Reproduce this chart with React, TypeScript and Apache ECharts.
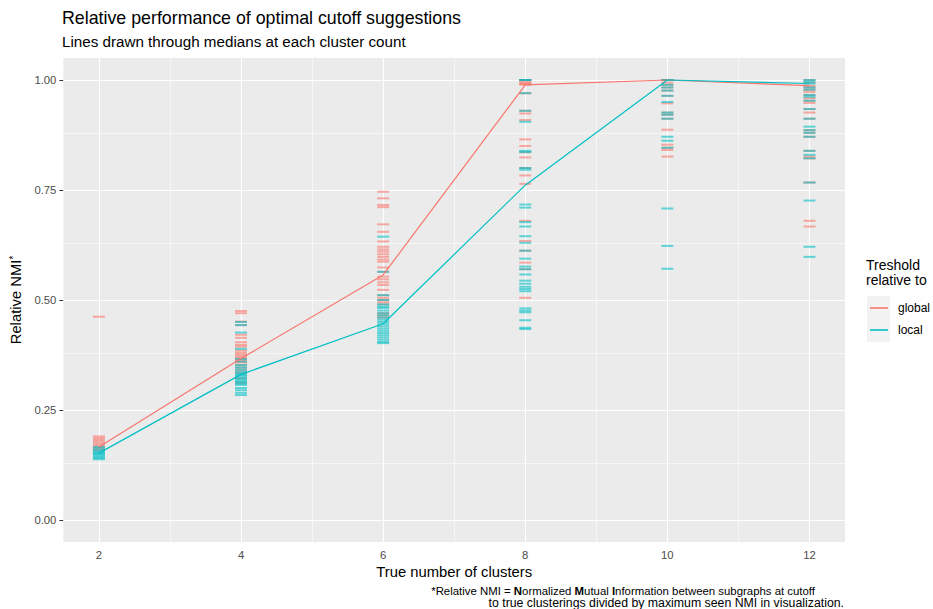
import React, { useEffect, useRef } from "react";
import * as echarts from "echarts";

const clusterCounts = [2, 4, 6, 8, 10, 12];
const globalMedians = [0.166, 0.367, 0.557, 0.989, 1.0, 0.987];
const localMedians = [0.152, 0.331, 0.446, 0.761, 1.0, 0.992];

const global2 = [0.462, 0.19, 0.186, 0.182, 0.178, 0.174, 0.17, 0.166, 0.162, 0.158];
const local2 = [0.166, 0.162, 0.158, 0.155, 0.152, 0.15, 0.147, 0.144, 0.141, 0.138];
const global4 = [0.475, 0.47, 0.451, 0.443, 0.421, 0.414, 0.404, 0.398, 0.394, 0.385, 0.38, 0.376, 0.372, 0.368, 0.365, 0.362, 0.358, 0.352, 0.346, 0.34, 0.334, 0.322, 0.312];
const local4 = [0.45, 0.443, 0.426, 0.389, 0.366, 0.36, 0.352, 0.347, 0.342, 0.337, 0.333, 0.33, 0.327, 0.323, 0.32, 0.316, 0.313, 0.31, 0.307, 0.3, 0.295, 0.289, 0.284];
const global6 = [0.746, 0.731, 0.716, 0.711, 0.672, 0.655, 0.633, 0.621, 0.615, 0.61, 0.604, 0.598, 0.592, 0.587, 0.574, 0.564, 0.553, 0.547, 0.54, 0.534, 0.523, 0.511, 0.505, 0.5, 0.495, 0.49, 0.47, 0.465, 0.46];
const local6 = [0.644, 0.564, 0.511, 0.5, 0.49, 0.485, 0.482, 0.476, 0.47, 0.465, 0.46, 0.455, 0.45, 0.445, 0.44, 0.435, 0.43, 0.425, 0.42, 0.415, 0.41, 0.405, 0.402];
const global8 = [1.0, 1.0, 1.0, 1.0, 1.0, 0.996, 0.993, 0.99, 0.99, 0.97, 0.93, 0.924, 0.909, 0.865, 0.85, 0.836, 0.824, 0.8, 0.783, 0.764, 0.68, 0.634, 0.612, 0.585, 0.57, 0.505];
const local8 = [1.0, 1.0, 0.97, 0.93, 0.905, 0.839, 0.836, 0.8, 0.796, 0.717, 0.71, 0.677, 0.667, 0.645, 0.63, 0.612, 0.594, 0.576, 0.57, 0.558, 0.544, 0.537, 0.53, 0.525, 0.52, 0.481, 0.476, 0.472, 0.454, 0.437, 0.434];
const global10 = [1.0, 1.0, 0.994, 0.989, 0.983, 0.976, 0.964, 0.947, 0.926, 0.921, 0.912, 0.887, 0.853, 0.846, 0.841, 0.826];
const local10 = [1.0, 1.0, 0.989, 0.983, 0.976, 0.964, 0.95, 0.926, 0.921, 0.912, 0.871, 0.862, 0.846, 0.708, 0.623, 0.571];
const global12 = [1.0, 0.994, 0.987, 0.983, 0.978, 0.973, 0.966, 0.959, 0.953, 0.948, 0.934, 0.926, 0.912, 0.886, 0.88, 0.871, 0.839, 0.826, 0.822, 0.767, 0.68, 0.667];
const local12 = [1.0, 0.996, 0.992, 0.983, 0.978, 0.966, 0.962, 0.953, 0.934, 0.912, 0.894, 0.886, 0.88, 0.871, 0.839, 0.83, 0.822, 0.767, 0.726, 0.621, 0.598];

const xTicks = [2, 4, 6, 8, 10, 12];
const xMinorTicks = [3, 5, 7, 9, 11];
const yTicks = [0, 0.25, 0.5, 0.75, 1.0];
const yMinorTicks = [0.125, 0.375, 0.625, 0.875];

const FONT = "'Liberation Sans', Arial, Helvetica, sans-serif";
const RED = "#F8766D";
const CYAN = "#00BFC4";

const globalByCount = [global2, global4, global6, global8, global10, global12];
const localByCount = [local2, local4, local6, local8, local10, local12];

function toPoints(groups: number[][]) {
  return groups.flatMap((vals, i) => vals.map((v) => [clusterCounts[i], v]));
}

export default function App() {
  const ref = useRef<HTMLDivElement>(null);
  useEffect(() => {
    if (!ref.current) return;
    const chart = echarts.init(ref.current, null, { renderer: "svg" });
    const majorStyle = { color: "#FFFFFF", width: 1.1, type: "solid" as const };
    const minorStyle = { color: "#FFFFFF", width: 0.55, type: "solid" as const };
    const option: any = {
      animation: false,
      textStyle: { fontFamily: FONT },
      title: [
        {
          text: "Relative performance of optimal cutoff suggestions",
          left: 62,
          top: 9,
          padding: 0,
          textStyle: { fontFamily: FONT, fontSize: 17.8, fontWeight: "normal", color: "#000" },
        },
        {
          text: "Lines drawn through medians at each cluster count",
          left: 62,
          top: 34,
          padding: 0,
          textStyle: { fontFamily: FONT, fontSize: 15.2, fontWeight: "normal", color: "#000" },
        },
      ],
      grid: {
        left: 62,
        right: 88,
        top: 58,
        bottom: 67,
        show: true,
        backgroundColor: "#EBEBEB",
        borderWidth: 0,
      },
      xAxis: {
        type: "value",
        min: 1.5,
        max: 12.5,
        name: "True number of clusters",
        nameLocation: "middle",
        nameGap: 21,
        nameTextStyle: { fontFamily: FONT, fontSize: 14.8, color: "#000", verticalAlign: "top" },
        axisLine: { show: false },
        axisTick: { show: true, length: 4, lineStyle: { color: "#333333", width: 1 }, customValues: xTicks },
        axisLabel: {
          customValues: xTicks,
          margin: 7,
          fontFamily: FONT,
          fontSize: 11.3,
          color: "#4D4D4D",
          formatter: (v: number) => String(v),
        },
        splitLine: { show: false },
      },
      yAxis: {
        type: "value",
        min: -0.05,
        max: 1.05,
        name: "{a|Relative NMI}{s|*}",
        nameLocation: "middle",
        nameGap: 33,
        nameRotate: 90,
        nameTextStyle: {
          fontFamily: FONT,
          color: "#000",
          rich: {
            a: { fontFamily: FONT, fontSize: 14.8, color: "#000", lineHeight: 16 },
            s: { fontFamily: FONT, fontSize: 10, color: "#000", verticalAlign: "top", lineHeight: 16 },
          },
        },
        axisLine: { show: false },
        axisTick: { show: true, length: 4, lineStyle: { color: "#333333", width: 1 }, customValues: yTicks },
        axisLabel: {
          customValues: yTicks,
          margin: 7,
          fontFamily: FONT,
          fontSize: 11.3,
          color: "#4D4D4D",
          formatter: (v: number) => v.toFixed(2),
        },
        splitLine: { show: false },
      },
      legend: {
        data: [
          { name: "global", icon: "rect" },
          { name: "local", icon: "rect" },
        ],
        orient: "vertical",
        left: 870,
        top: 302,
        padding: 0,
        itemWidth: 18,
        itemHeight: 1.6,
        itemGap: 10,
        selectedMode: false,
        textStyle: { fontFamily: FONT, fontSize: 12, color: "#000", padding: [0, 0, 0, 5] },
      },
      graphic: [
        {
          type: "rect",
          left: 867,
          top: 296,
          shape: { width: 23, height: 46 },
          style: { fill: "#F2F2F2" },
          z: -1,
        },
        {
          type: "text",
          left: 866,
          top: 257,
          style: {
            text: "Treshold\nrelative to",
            fontFamily: FONT,
            fontSize: 14,
            lineHeight: 15,
            fill: "#000",
          },
        },
        {
          type: "text",
          x: 815,
          y: 591.2,
          style: {
            text: "{n|*Relative NMI = }{b|N}{n|ormalized }{b|M}{n|utual }{b|I}{n|nformation between subgraphs at cutoff}",
            align: "right",
            verticalAlign: "middle",
            rich: {
              n: { fontFamily: FONT, fontSize: 11.4, fill: "#000", color: "#000" },
              b: { fontFamily: FONT, fontSize: 11.4, fontWeight: "bold", fill: "#000", color: "#000" },
            },
          },
        },
        {
          type: "text",
          x: 844,
          y: 603,
          style: {
            text: "to true clusterings divided by maximum seen NMI in visualization.",
            align: "right",
            verticalAlign: "middle",
            fontFamily: FONT,
            fontSize: 12.3,
            fill: "#000",
          },
        },
      ],
      series: [
        {
          name: "global",
          type: "line",
          data: clusterCounts.map((c, i) => [c, globalMedians[i]]),
          showSymbol: false,
          symbol: "none",
          lineStyle: { color: RED, width: 1.2 },
          itemStyle: { color: RED },
          z: 4,
          silent: true,
        },
        {
          name: "local",
          type: "line",
          data: clusterCounts.map((c, i) => [c, localMedians[i]]),
          showSymbol: false,
          symbol: "none",
          lineStyle: { color: CYAN, width: 1.2 },
          itemStyle: { color: CYAN },
          z: 4,
          silent: true,
        },
        {
          name: "grid",
          type: "line",
          data: [],
          z: 1,
          silent: true,
          markLine: {
            z: 1,
            silent: true,
            symbol: ["none", "none"],
            label: { show: false },
            emphasis: { disabled: true },
            data: [
              ...xMinorTicks.map((v) => ({ xAxis: v, lineStyle: minorStyle })),
              ...yMinorTicks.map((v) => ({ yAxis: v, lineStyle: minorStyle })),
              ...xTicks.map((v) => ({ xAxis: v, lineStyle: majorStyle })),
              ...yTicks.map((v) => ({ yAxis: v, lineStyle: majorStyle })),
            ],
          },
        },
        {
          name: "global",
          type: "scatter",
          data: toPoints(globalByCount),
          symbol: "rect",
          symbolSize: [12, 2],
          itemStyle: { color: RED, opacity: 0.6 },
          z: 2,
          silent: true,
        },
        {
          name: "local",
          type: "scatter",
          data: toPoints(localByCount),
          symbol: "rect",
          symbolSize: [12, 2],
          itemStyle: { color: CYAN, opacity: 0.6 },
          z: 3,
          silent: true,
        },
      ],
    };
    chart.setOption(option);
    return () => chart.dispose();
  }, []);
  return (
    <div
      ref={ref}
      style={{ position: "fixed", left: 0, top: 0, width: 933, height: 609, background: "#FFFFFF" }}
    />
  );
}
